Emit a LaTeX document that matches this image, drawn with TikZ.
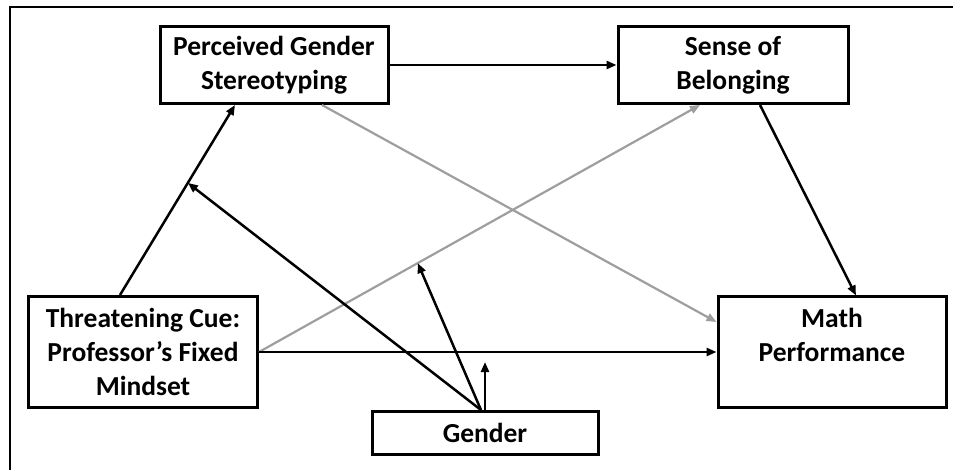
\documentclass[tikz,border=0pt]{standalone}
\usepackage{fontspec}
\setmainfont{Carlito}
\usetikzlibrary{arrows.meta}

\begin{document}
\begin{tikzpicture}[x=1pt,y=-1pt,>={Triangle[length=10pt,width=8pt]},line width=2.5pt,
        var/.style={draw,line width=3pt,align=center,inner sep=0pt,
            font=\bfseries\fontsize{27.5}{34}\selectfont},
        pale/.style={draw=black!38,line width=2.2pt}]
        \useasboundingbox (0,0) rectangle (953,470);
        \draw[line width=2.2pt] (10,470) -- (10,7) -- (953,7);
        \node[var,minimum width=228,minimum height=77] (pgs) at (274,65) {Perceived Gender\\Stereotyping};
        \node[var,minimum width=230,minimum height=77] (sob) at (733,65) {Sense of\\Belonging};
        \node[var,minimum width=229,minimum height=111] (tc) at (143,352) {Threatening Cue:\\Professor’s Fixed\\Mindset};
        \node[var,minimum width=228,minimum height=110,text depth=35pt] (mp) at (832,352) {Math\\Performance};
        \node[var,minimum width=226,minimum height=43] (g) at (485,433) {Gender};
        % paths
        \draw[->] (pgs) -- (sob);
        \draw[->] ([xshift=-23pt]tc.north) -- ([xshift=-39pt]pgs.south) coordinate[pos=0.59] (m1);
        \draw[->,pale] (tc.east) -- ([xshift=-33pt]sob.south) coordinate[pos=0.36] (m2);
        \draw[->] (tc) -- (mp) coordinate[pos=0.493] (m3);
        \draw[->,pale] ([xshift=48pt]pgs.south) -- ([yshift=30pt]mp.west);
        \draw[->] ([xshift=27pt]sob.south) -- ([xshift=24pt]mp.north);
        % moderation by gender
        \coordinate (m4) at ([yshift=-10pt]m3);
        \draw[->] ([xshift=-4pt]g.north) -- (m1);
        \draw[->] ([xshift=-4pt]g.north) -- (m2);
        \draw[->] (g.north) -- (g.north |- m4);
\end{tikzpicture}
\end{document}
